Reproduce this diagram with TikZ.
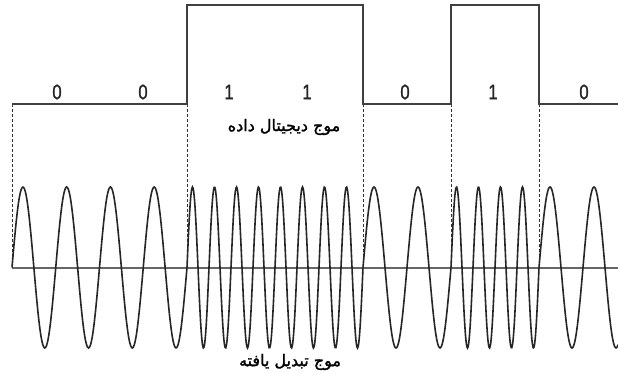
\documentclass[tikz,border=0pt]{standalone}
\usepackage{fontspec}
\setmainfont{Liberation Sans}
\newfontfamily\bitfont[FakeBold=1.2]{Liberation Sans}
\newfontfamily\arabicfont[Script=Arabic,FakeBold=1.6]{DejaVu Sans}
\TeXXeTstate=1
\begin{document}
\begin{tikzpicture}[x=1pt,y=1pt,
  digital/.style={draw=black!75,line width=1.6pt},
  wave/.style={draw=black!85,line width=1.6pt},
  axisline/.style={draw=black!60,line width=1.2pt},
  guide/.style={draw=black!80,line width=0.7pt,dash pattern=on 3pt off 2pt},
  bit/.style={font=\bitfont\fontsize{21}{21}\selectfont,text=black!85,inner sep=0pt},
  caption/.style={font=\arabicfont\fontsize{16}{18}\selectfont,inner sep=0pt}]
\useasboundingbox (0,0) rectangle (618,374);
\fill[white] (0,0) rectangle (618,374);
% coordinates (image y flipped: 374 - y)
\coordinate (d0) at (12,270);
\coordinate (d1) at (187,270);
\coordinate (d2) at (363,270);
\coordinate (d3) at (451,270);
\coordinate (d4) at (539,270);
\coordinate (a0) at (12,106);
\coordinate (a1) at (187,106);
\coordinate (a2) at (363,106);
\coordinate (a3) at (451,106);
\coordinate (a4) at (539,106);
\coordinate (aend) at (618,106);
% guides
\foreach \i in {0,...,4} \draw[guide] (d\i) -- (a\i);
% axis
\draw[axisline] (a0) -- (aend);
% digital signal
\draw[digital,line join=miter] (d0) -- (d1) -- (187,369) -- (363,369) -- (d2) -- (d3) -- (451,369) -- (539,369) -- (d4) -- (618,270);
% modulated wave
\draw[wave] plot[domain=12:187,samples=200,smooth] (\x,{106.5+80.5*sin((\x-12)/43.75*360)});
\draw[wave] plot[domain=187:363,samples=260,smooth] (\x,{106.5+80.5*sin((\x-187)/22*360)});
\draw[wave] plot[domain=363:451,samples=100,smooth] (\x,{106.5+80.5*sin((\x-363)/44*360)});
\draw[wave] plot[domain=451:539,samples=140,smooth] (\x,{106.5+80.5*sin((\x-451)/22*360)});
\draw[wave] plot[domain=539:618,samples=100,smooth] (\x,{106.5+80.5*sin((\x-539)/44*360)});
% bits
\node[bit] (b1) at (57,282) {\scalebox{0.8}[1]{0}};
\node[bit] (b2) at (143,282) {\scalebox{0.8}[1]{0}};
\node[bit] (b3) at (229,282) {\scalebox{0.8}[1]{1}};
\node[bit] (b4) at (307,282) {\scalebox{0.8}[1]{1}};
\node[bit] (b5) at (405,282) {\scalebox{0.8}[1]{0}};
\node[bit] (b6) at (493,282) {\scalebox{0.8}[1]{1}};
\node[bit] (b7) at (584,282) {\scalebox{0.8}[1]{0}};
% captions
\node[caption] (c1) at (284,247) {\beginR موج دیجیتال داده\endR};
\node[caption] (c2) at (290,12) {\beginR موج تبدیل یافته\endR};
\end{tikzpicture}
\end{document}
